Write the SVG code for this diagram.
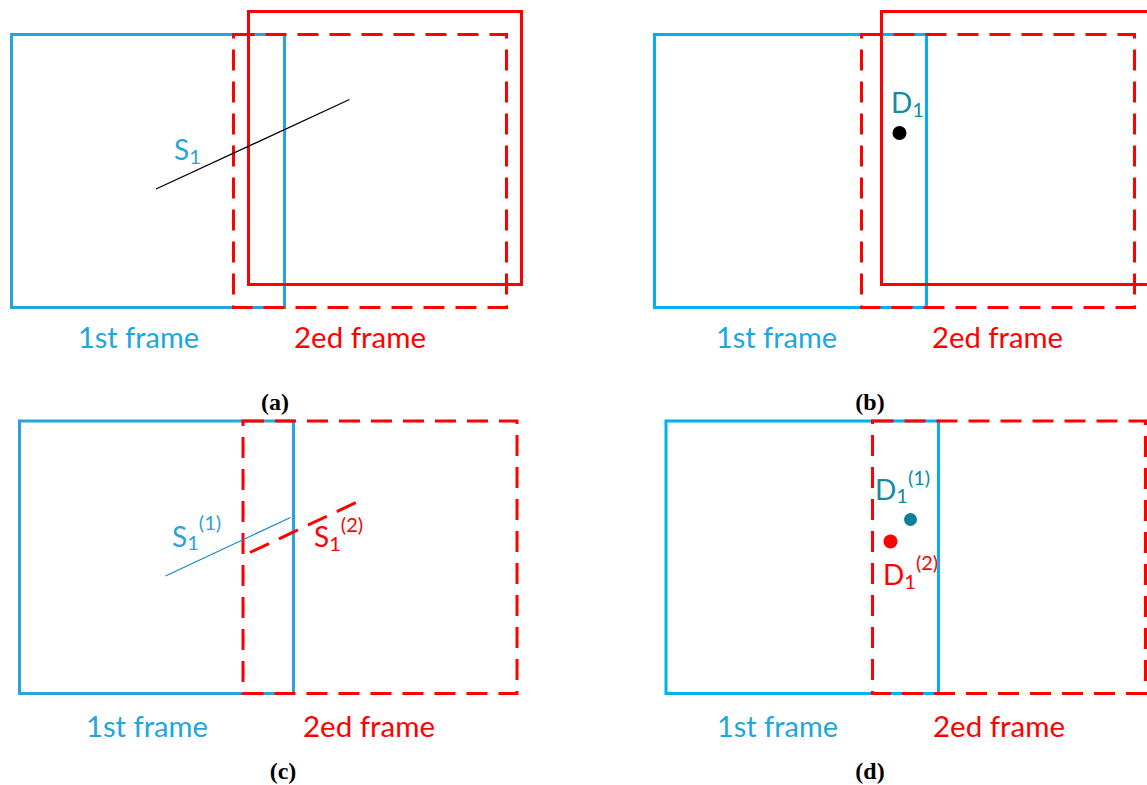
<svg xmlns="http://www.w3.org/2000/svg" width="1147" height="785" viewBox="0 0 1147 785">
<style>
.bl{fill:none;stroke:#29a3dc;stroke-width:3}
.bl2{fill:none;stroke:#00b0f0;stroke-width:3}
.rs{fill:none;stroke:#ff0000;stroke-width:3}
.rd{fill:none;stroke:#ff0000;stroke-width:3;stroke-dasharray:21 11}
.lbl{font-family:Lato,"Liberation Sans",sans-serif;font-size:28px}
.sub{font-size:20px}
.cap{font-family:"Liberation Serif",serif;font-size:24px;font-weight:bold;fill:#000;text-anchor:middle}
.tb{fill:#29a3dc}
.tb2{fill:#1ea6de}
.tr{fill:#ff0000}
.tt{fill:#138aa3}
</style>
<rect width="1147" height="785" fill="#fff"/>
<g id="panel-a">
<g id="a-frame1"><rect class="bl" x="11.5" y="34.5" width="273" height="273"/></g>
<g id="a-frame2-solid"><rect class="rs" x="248.5" y="11.5" width="273" height="273"/></g>
<g id="a-frame2-dashed"><rect class="rd" x="233.5" y="34.5" width="273" height="273"/></g>
<g id="a-s1"><line x1="156" y1="189" x2="349.5" y2="99.5" stroke="#000" stroke-width="1.3"/>
<text class="lbl tb" x="174" y="160">S<tspan class="sub" dy="4">1</tspan></text></g>
<text class="lbl tb2" x="78" y="348" textLength="121" lengthAdjust="spacingAndGlyphs">1st frame</text>
<text class="lbl tr" x="294" y="348" textLength="132" lengthAdjust="spacingAndGlyphs">2ed frame</text>
<text class="cap" x="275" y="410">(a)</text>
</g>
<g id="panel-b">
<g id="b-frame1"><rect class="bl2" x="654.5" y="34.5" width="272" height="273"/></g>
<g id="b-frame2-solid"><rect class="rs" x="881.5" y="11.5" width="273" height="273"/></g>
<g id="b-frame2-dashed"><rect class="rd" x="861.5" y="34.5" width="273" height="273"/></g>
<g id="b-d1"><circle cx="899.5" cy="133" r="7" fill="#000"/>
<text class="lbl tt" x="891" y="113">D<tspan class="sub" dy="4">1</tspan></text></g>
<text class="lbl tb2" x="716" y="348" textLength="121" lengthAdjust="spacingAndGlyphs">1st frame</text>
<text class="lbl tr" x="932" y="348" textLength="131" lengthAdjust="spacingAndGlyphs">2ed frame</text>
<text class="cap" x="870" y="410">(b)</text>
</g>
<g id="panel-c">
<g id="c-frame1"><rect class="bl" x="19.5" y="421" width="274" height="272.5"/></g>
<g id="c-frame2-dashed"><rect class="rd" x="243" y="421" width="274" height="272.5"/></g>
<g id="c-s1-1"><line x1="165.5" y1="576" x2="290.5" y2="517.5" stroke="#1e88d0" stroke-width="1.3"/>
<text class="lbl tb" x="172" y="547">S<tspan class="sub" dy="3">1</tspan><tspan class="sub" dy="-20">(1)</tspan></text></g>
<g id="c-s1-2"><line x1="250" y1="552.5" x2="356" y2="502.5" stroke="#ff0000" stroke-width="3" stroke-dasharray="21 11"/>
<text class="lbl tr" x="314" y="547">S<tspan class="sub" dy="4">1</tspan><tspan class="sub" dy="-19">(2)</tspan></text></g>
<text class="lbl tb2" x="86" y="737" textLength="122" lengthAdjust="spacingAndGlyphs">1st frame</text>
<text class="lbl tr" x="303" y="737" textLength="132" lengthAdjust="spacingAndGlyphs">2ed frame</text>
<text class="cap" x="283" y="779">(c)</text>
</g>
<g id="panel-d">
<g id="d-frame1"><rect class="bl2" x="666" y="421" width="272.5" height="272.5"/></g>
<g id="d-frame2-dashed"><rect class="rd" x="872.5" y="421" width="273" height="272.5"/></g>
<g id="d-d1-1"><circle cx="910.5" cy="519.5" r="6.5" fill="#0b7f98"/>
<text class="lbl tt" x="875" y="500">D<tspan class="sub" dy="3">1</tspan><tspan class="sub" dy="-18">(1)</tspan></text></g>
<g id="d-d1-2"><circle cx="890.5" cy="541.5" r="7" fill="#ff0000"/>
<text class="lbl tr" x="883" y="585">D<tspan class="sub" dy="4">1</tspan><tspan class="sub" dy="-19">(2)</tspan></text></g>
<text class="lbl tb2" x="717" y="737" textLength="121" lengthAdjust="spacingAndGlyphs">1st frame</text>
<text class="lbl tr" x="933" y="737" textLength="132" lengthAdjust="spacingAndGlyphs">2ed frame</text>
<text class="cap" x="870" y="779">(d)</text>
</g>
<g id="connectors"></g>
</svg>
